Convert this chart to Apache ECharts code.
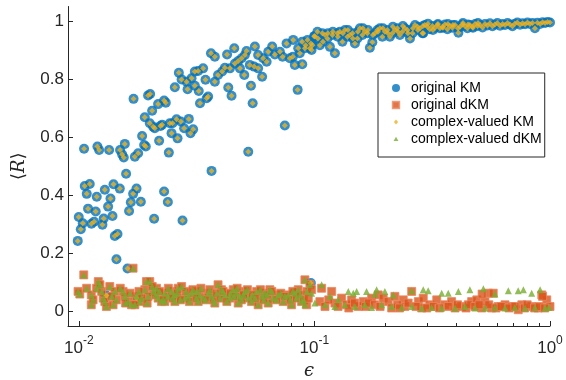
<!DOCTYPE html>
<html>
<head>
<meta charset="utf-8">
<script src="https://cdn.jsdelivr.net/npm/echarts@6/dist/echarts.min.js"></script>
<style>
  html, body { margin: 0; padding: 0; background: #fff; }
  #chart { width: 566px; height: 380px; }
</style>
</head>
<body>
<div id="chart"></div>
<script>
// [epsilon, <R>] pairs
// original KM (complex-valued KM sits exactly on top of it)
const kmData = [
  [0.0099,0.243],[0.0102,0.283],[0.0100,0.325],[0.0104,0.304],[0.01095,0.354],[0.01132,0.302],[0.01161,0.309],
  [0.0118,0.344],[0.0126,0.299],[0.01276,0.320],[0.01332,0.361],[0.0139,0.329],[0.01363,0.389],[0.0129,0.419],
  [0.01192,0.395],[0.01081,0.405],[0.0106,0.432],[0.01113,0.439],[0.01404,0.438],[0.01493,0.423],[0.01588,0.474],
  [0.01422,0.260],[0.0146,0.267],[0.01445,0.180],[0.0161,0.148],[0.01635,0.346],[0.01663,0.376],[0.01701,0.405],
  [0.01758,0.423],[0.01834,0.378],[0.02088,0.319],[0.02302,0.413],[0.02388,0.377],[0.02756,0.313],[0.01053,0.560],
  [0.0120,0.568],[0.0122,0.556],[0.01345,0.556],[0.01497,0.556],[0.01527,0.541],[0.01552,0.530],[0.01568,0.577],
  [0.0173,0.533],[0.01786,0.545],[0.01894,0.573],[0.01925,0.568],[0.01857,0.604],[0.01906,0.669],[0.02002,0.648],
  [0.02068,0.636],[0.02102,0.631],[0.02048,0.691],[0.02171,0.714],[0.02302,0.726],[0.0234,0.719],[0.01969,0.744],
  [0.02008,0.749],[0.01708,0.732],[0.02193,0.588],[0.02223,0.639],[0.02258,0.643],[0.02411,0.547],[0.02434,0.648],
  [0.0250,0.648],[0.02476,0.614],[0.0260,0.662],[0.02711,0.654],[0.02625,0.596],[0.0280,0.631],[0.02931,0.663],
  [0.0298,0.614],[0.03057,0.627],[0.02557,0.772],[0.02659,0.822],[0.02731,0.799],[0.02868,0.791],[0.02896,0.765],
  [0.0301,0.803],[0.03109,0.826],[0.0131,0.055],[0.01758,0.046],[0.0966,0.098],
  [0.0364,0.889],[0.0378,0.877],[0.0426,0.885],[0.0457,0.906],[0.0515,0.897],[0.0559,0.912],[0.0311,0.777],
  [0.0323,0.759],[0.0321,0.828],[0.0337,0.837],[0.0345,0.798],[0.0378,0.791],[0.0390,0.814],[0.0406,0.826],
  [0.0417,0.839],[0.0438,0.837],[0.0460,0.854],[0.0475,0.862],[0.0491,0.872],[0.0507,0.883],[0.0483,0.837],
  [0.0504,0.814],[0.0532,0.849],[0.0555,0.843],[0.0577,0.837],[0.0600,0.808],[0.0577,0.883],[0.0606,0.872],
  [0.0627,0.860],[0.0637,0.894],[0.0662,0.912],[0.0680,0.885],[0.0714,0.894],[0.0733,0.877],[0.0762,0.923],
  [0.0787,0.872],[0.0813,0.935],[0.0826,0.849],[0.0854,0.906],[0.0867,0.889],[0.0888,0.851],[0.0918,0.917],
  [0.0966,0.923],[0.0998,0.948],[0.0973,0.900],[0.0327,0.717],[0.0349,0.734],[0.0354,0.740],[0.0431,0.771],
  [0.0445,0.743],[0.0538,0.777],[0.0547,0.717],[0.0849,0.763],[0.0749,0.640],[0.0524,0.550],[0.0366,0.484],
  [0.0810,0.877],[0.1222,0.889],[0.1720,0.908],[0.1762,0.927],[0.1486,0.923],[0.2545,0.940],[0.2898,0.958],
  [0.4085,0.960],[0.8630,0.975],
  [0.0888,0.929],[0.0912,0.906],[0.0935,0.935],[0.0957,0.906],[0.0981,0.917],[0.1005,0.948],[0.1030,0.963],
  [0.1055,0.917],[0.1081,0.958],[0.1109,0.952],[0.1136,0.940],[0.1164,0.911],[0.1193,0.952],[0.1253,0.958],
  [0.1283,0.963],[0.1315,0.929],[0.1348,0.969],[0.1381,0.946],[0.1415,0.952],[0.1450,0.958],[0.1523,0.940],
  [0.1560,0.975],[0.1598,0.952],[0.1637,0.963],[0.1678,0.958],[0.1806,0.958],[0.1851,0.969],[0.1896,0.975],
  [0.1943,0.946],[0.1991,0.963],[0.2041,0.969],[0.2092,0.946],[0.2143,0.958],[0.2196,0.969],[0.2250,0.975],
  [0.2306,0.952],[0.2363,0.963],[0.2421,0.975],[0.2482,0.969],[0.2608,0.958],[0.2673,0.986],[0.2739,0.980],
  [0.2805,0.975],[0.2874,0.958],[0.2944,0.986],[0.3017,0.980],[0.3090,0.972],[0.3169,0.983],[0.3251,0.977],
  [0.3331,0.986],[0.3412,0.975],[0.3496,0.980],[0.3581,0.988],[0.3669,0.972],[0.3758,0.983],[0.3851,0.977],
  [0.3954,0.986],[0.4150,0.980],[0.4252,0.988],[0.4355,0.983],[0.4463,0.975],[0.4571,0.986],[0.4684,0.980],
  [0.4808,0.990],[0.4927,0.983],[0.5047,0.986],[0.5172,0.978],[0.5297,0.990],[0.5428,0.985],[0.5559,0.992],
  [0.5697,0.982],[0.5834,0.988],[0.5979,0.993],[0.6138,0.984],[0.6290,0.990],[0.6442,0.986],[0.6602,0.993],
  [0.6761,0.988],[0.6929,0.982],[0.7096,0.991],[0.7272,0.995],[0.7464,0.987],[0.7649,0.992],[0.7834,0.989],
  [0.8028,0.995],[0.8222,0.990],[0.8426,0.993],[0.8844,0.994],[0.9078,0.990],[0.9303,0.996],[0.9528,0.993],
  [0.9764,0.997],[1.0,0.995],
  [0.1035,0.940],[0.1087,0.929],[0.1141,0.958],[0.1198,0.963],[0.1258,0.946],[0.1321,0.958],[0.1388,0.969],
  [0.1457,0.940],[0.1530,0.963],[0.1607,0.975],[0.1688,0.969],[0.1772,0.952],[0.1860,0.963],[0.1954,0.975],
  [0.2052,0.958],[0.2154,0.980],[0.2262,0.963],[0.2375,0.983],[0.2495,0.958],[0.2620,0.975],[0.2751,0.969],
  [0.2888,0.983],[0.3034,0.991],[0.3186,0.969],[0.3345,0.990],[0.3512,0.977],[0.3689,0.990],[0.3874,0.986],
  [0.4068,0.975],[0.4272,0.993],[0.4486,0.988],[0.4710,0.977],[0.4947,0.993]
];

// dKM below eps ~ 0.1: original and complex-valued coincide
const dkmLowData = [
  [0.0105,0.126],[0.0170,0.149],[0.0101,0.060],[0.00993,0.069],[0.0108,0.080],[0.0113,0.057],[0.0121,0.103],
  [0.0119,0.080],[0.0125,0.069],[0.0127,0.046],[0.0129,0.034],[0.0113,0.023],[0.01354,0.086],[0.01422,0.069],
  [0.0131,0.017],[0.01398,0.023],[0.01445,0.040],[0.01542,0.069],[0.01568,0.052],[0.0162,0.034],[0.01674,0.023],
  [0.01758,0.052],[0.01816,0.034],[0.01938,0.103],[0.02002,0.103],[0.01906,0.075],[0.02068,0.069],[0.02138,0.080],
  [0.01969,0.052],[0.02171,0.046],[0.02245,0.034],[0.02318,0.063],[0.02394,0.052],[0.02476,0.069],[0.02557,0.057],
  [0.02641,0.080],[0.02731,0.086],[0.0282,0.046],[0.02912,0.052],[0.0301,0.063],[0.03161,0.069],[0.03265,0.057],
  [0.03372,0.046],[0.0354,0.063],[0.0366,0.052],[0.0390,0.092],[0.04036,0.075],[0.04169,0.057],[0.04378,0.046],
  [0.04522,0.075],[0.04674,0.063],[0.04828,0.052],[0.0507,0.069],[0.05236,0.046],[0.05412,0.034],[0.05684,0.069],
  [0.05968,0.052],[0.06164,0.063],[0.06471,0.075],[0.06683,0.046],[0.07019,0.057],[0.07371,0.034],[0.0774,0.057],
  [0.08265,0.063],[0.08536,0.075],[0.09115,0.109],[0.0957,0.092],
  [0.02557,0.034],[0.0173,0.023],[0.02318,0.034],[0.03211,0.034],[0.0378,0.029],[0.04748,0.029],[0.05772,0.023],
  [0.06365,0.029],[0.08002,0.023],[0.08823,0.034],
  [0.0115,0.040],[0.0123,0.092],[0.0138,0.052],[0.0150,0.080],[0.0158,0.029],[0.0165,0.063],[0.0180,0.069],
  [0.0185,0.046],[0.0195,0.029],[0.0205,0.086],[0.0212,0.057],[0.0220,0.069],[0.0228,0.040],[0.0240,0.080],
  [0.0250,0.046],[0.0262,0.063],[0.0270,0.040],[0.0285,0.069],[0.0295,0.034],[0.0305,0.075],[0.0315,0.046],
  [0.0330,0.080],[0.0345,0.040],[0.0360,0.075],[0.0372,0.040],[0.0385,0.063],[0.0398,0.046],[0.0410,0.069],
  [0.0425,0.034],[0.0440,0.063],[0.0455,0.052],[0.0470,0.080],[0.0490,0.040],[0.0500,0.057],[0.0520,0.075],
  [0.0545,0.057],[0.0560,0.046],[0.0590,0.075],[0.0610,0.040],[0.0630,0.057],[0.0660,0.069],[0.0690,0.040],
  [0.0720,0.063],[0.0750,0.052],[0.0790,0.040],[0.0810,0.069],[0.0840,0.046],[0.0870,0.057],[0.0900,0.040],
  [0.0930,0.069]
];

// original dKM above eps ~ 0.1
const dkmHighData = [
  [0.0927,0.023],[0.0973,0.075],[0.0942,0.046],[0.1073,0.080],[0.1055,0.034],[0.1109,0.017],[0.1184,0.069],
  [0.1222,0.029],[0.1305,0.046],[0.1371,0.023],[0.1439,0.040],[0.1535,0.017],[0.1612,0.034],[0.1749,0.046],
  [0.1866,0.057],[0.1959,0.046],[0.2057,0.034],[0.2128,0.012],[0.2196,0.052],[0.2382,0.040],[0.2421,0.017],
  [0.2588,0.069],[0.2761,0.034],[0.2853,0.012],[0.2898,0.046],[0.3090,0.023],[0.3306,0.040],[0.3581,0.023],
  [0.3822,0.034],[0.3954,0.012],[0.4221,0.017],[0.4649,0.034],[0.4890,0.040],[0.5133,0.012],[0.5297,0.034],
  [0.5472,0.063],[0.5654,0.012],[0.5742,0.063],[0.6027,0.017],[0.6442,0.023],[0.6876,0.017],[0.7330,0.006],
  [0.7591,0.023],[0.8362,0.017],[0.8915,0.012],[0.9232,0.057],[0.9690,0.040],[1.0,0.017],
  [0.1150,0.040],[0.1260,0.017],[0.1400,0.012],[0.1480,0.029],[0.1650,0.017],[0.1700,0.029],[0.1800,0.023],
  [0.1900,0.017],[0.2250,0.023],[0.2300,0.012],[0.2500,0.029],[0.2700,0.017],[0.3000,0.012],[0.3200,0.017],
  [0.3400,0.012],[0.3700,0.017],[0.4050,0.023],[0.4400,0.012],[0.4500,0.023],[0.4800,0.017],[0.5000,0.023],
  [0.5500,0.023],[0.5900,0.012],[0.6200,0.017],[0.6700,0.012],[0.7100,0.017],[0.7800,0.012],[0.8000,0.023],
  [0.8600,0.012],[0.9000,0.017],[0.9500,0.012],[0.5150,0.060],[0.9300,0.052]
];

// complex-valued dKM above eps ~ 0.1
const cdkmHighData = [
  [0.1073,0.092],[0.0973,0.063],[0.1164,0.052],[0.1262,0.040],[0.1393,0.069],[0.1462,0.063],[0.1511,0.069],
  [0.1665,0.069],[0.1806,0.060],[0.1837,0.075],[0.1991,0.069],[0.2161,0.057],[0.2588,0.071],[0.2898,0.075],
  [0.3041,0.071],[0.3470,0.063],[0.3699,0.063],[0.4085,0.069],[0.4571,0.075],[0.5214,0.078],[0.5834,0.060],
  [0.6655,0.071],[0.7330,0.071],[0.7710,0.075],[0.8362,0.063],[0.9078,0.075],
  [0.0912,0.023],[0.1005,0.029],[0.1109,0.023],[0.1222,0.017],[0.1348,0.023],[0.1486,0.017],[0.1637,0.023],
  [0.1749,0.014],[0.1928,0.023],[0.2128,0.017],[0.2345,0.014],[0.2588,0.017],[0.2853,0.012],[0.3143,0.014],
  [0.3470,0.012],[0.3954,0.012],[0.4355,0.017],[0.4808,0.012],[0.5297,0.012],[0.5834,0.014],[0.6442,0.012],
  [0.7096,0.014],[0.7834,0.012],[0.8630,0.014],[0.9528,0.012],[0.9900,0.014]
];

const xMajorTicks = [0.01, 0.1, 1];
const xMinorTicks = [0.02, 0.03, 0.04, 0.05, 0.06, 0.07, 0.08, 0.09, 0.2, 0.3, 0.4, 0.5, 0.6, 0.7, 0.8, 0.9];
const yTicks = [0, 0.2, 0.4, 0.6, 0.8, 1];
const seriesNames = ['original KM', 'original dKM', 'complex-valued KM', 'complex-valued dKM'];

const axisColor = '#262626';
const chart = echarts.init(document.getElementById('chart'), null, { renderer: 'canvas' });

const option = {
  animation: false,
  backgroundColor: '#fff',
  grid: { left: 68, right: 16, top: 6.5, bottom: 54, outerBoundsMode: 'none' },
  legend: {
    orient: 'vertical',
    left: 378,
    top: 73,
    padding: [8, 3, 11, 13],
    itemWidth: 20,
    itemHeight: 8,
    itemGap: 3,
    backgroundColor: '#fff',
    borderColor: axisColor,
    borderWidth: 1,
    selectedMode: false,
    textStyle: { fontFamily: 'Liberation Sans', fontSize: 14, color: '#000' },
    data: [
      { name: seriesNames[0], icon: 'circle' },
      { name: seriesNames[1], icon: 'path://M0 0M10 10M1 1L9 1L9 9L1 9Z' },
      { name: seriesNames[2], icon: 'path://M0 0M10 10M5 2L7.6 5L5 8L2.4 5Z' },
      { name: seriesNames[3], icon: 'path://M0 0M10 10M5 2.2L8 7.6L2 7.6Z' }
    ]
  },
  xAxis: [
    {
      type: 'log',
      min: 0.009,
      max: 1,
      name: 'ϵ',
      nameLocation: 'middle',
      nameGap: 32,
      nameTextStyle: { fontFamily: 'DejaVu Serif', fontStyle: 'italic', fontSize: 18, color: axisColor },
      axisLine: { onZero: false, lineStyle: { color: axisColor, width: 1 } },
      axisTick: { inside: true, length: 5, customValues: xMajorTicks, lineStyle: { color: axisColor } },
      axisLabel: {
        customValues: xMajorTicks,
        margin: 9,
        formatter: v => '{b|10}{s|' + Math.round(Math.log10(v)) + '}',
        rich: {
          b: { fontFamily: 'Liberation Sans', fontSize: 17, color: axisColor, lineHeight: 22, verticalAlign: 'bottom' },
          s: { fontFamily: 'Liberation Sans', fontSize: 12, color: axisColor, lineHeight: 12, verticalAlign: 'top' }
        }
      },
      splitLine: { show: false }
    },
    {
      type: 'log',
      min: 0.009,
      max: 1,
      position: 'bottom',
      axisLine: { show: false, onZero: false },
      axisTick: { inside: true, length: 3, customValues: xMinorTicks, lineStyle: { color: axisColor } },
      axisLabel: { show: false },
      splitLine: { show: false }
    }
  ],
  yAxis: {
    type: 'value',
    min: -0.05,
    max: 1.05,
    name: '{a|⟨}{r|R}{a|⟩}',
    nameLocation: 'middle',
    nameRotate: 90,
    nameGap: 40,
    nameTextStyle: {
      rich: {
        a: { fontFamily: 'DejaVu Serif', fontSize: 18, color: axisColor },
        r: { fontFamily: 'DejaVu Serif', fontStyle: 'italic', fontSize: 18, color: axisColor }
      }
    },
    axisLine: { show: true, onZero: false, lineStyle: { color: axisColor, width: 1 } },
    axisTick: { show: true, inside: true, length: 5, customValues: yTicks, lineStyle: { color: axisColor } },
    axisLabel: {
      customValues: yTicks,
      margin: 4,
      fontFamily: 'Liberation Sans',
      fontSize: 17,
      color: axisColor,
      formatter: v => String(+v.toFixed(2))
    },
    splitLine: { show: false }
  },
  series: [
    {
      name: seriesNames[0], type: 'scatter', data: kmData, symbol: 'circle', symbolSize: 10,
      itemStyle: { color: '#0072BD' }, silent: true
    },
    {
      name: seriesNames[1], type: 'scatter', data: dkmLowData.concat(dkmHighData), symbol: 'rect', symbolSize: 8,
      itemStyle: { color: '#D95319', borderColor: '#E8875F', borderWidth: 1 }, silent: true
    },
    {
      name: seriesNames[2], type: 'scatter', data: kmData, symbol: 'diamond', symbolSize: [6, 6],
      itemStyle: { color: '#EDB120' }, silent: true
    },
    {
      name: seriesNames[3], type: 'scatter', data: dkmLowData.concat(cdkmHighData), symbol: 'triangle', symbolSize: 7,
      itemStyle: { color: '#77AC30' }, silent: true
    }
  ]
};

chart.setOption(option);
</script>
</body>
</html>
